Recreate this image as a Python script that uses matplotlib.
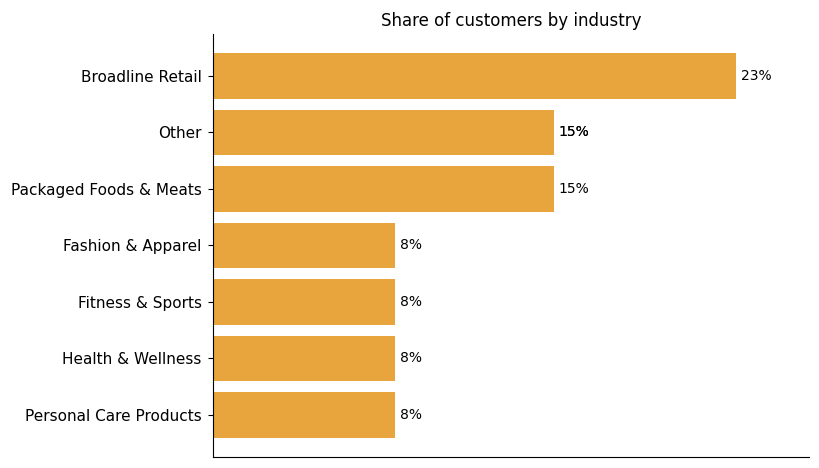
import matplotlib
matplotlib.use('Agg')
import matplotlib.pyplot as plt

# data, top to bottom
industries = ['Broadline Retail', 'Other', 'Packaged Foods & Meats',
              'Fashion & Apparel', 'Fitness & Sports', 'Health & Wellness',
              'Personal Care Products']
shares = [23, 15, 15, 8, 8, 8, 8]
labels = ['23%', '15%', '15%', '8%', '8%', '8%', '8%']

fig, ax = plt.subplots(figsize=(8.2, 4.68), dpi=100)
fig.subplots_adjust(left=0.26, right=0.987, top=0.927, bottom=0.024)

ypos = list(range(len(industries)))[::-1]
ax.barh(ypos, shares, height=0.8, color='#E8A43D')

for y, v, lab in zip(ypos, shares, labels):
    ax.text(v + 0.2, y, lab, va='center', ha='left', fontsize=10)
# the "Other" label is drawn twice in the original
ax.text(shares[1] + 0.2, ypos[1], labels[1], va='center', ha='left', fontsize=10)

ax.set_yticks(ypos)
ax.set_yticklabels(industries, fontsize=11)
ax.tick_params(axis='y', pad=4.8)
ax.set_xticks([])
ax.set_xlim(0, max(shares) * 1.14)
ax.set_title('Share of customers by industry', fontsize=12, pad=6)
ax.spines['top'].set_visible(False)
ax.spines['right'].set_visible(False)

fig.savefig('out.png', dpi=100)
